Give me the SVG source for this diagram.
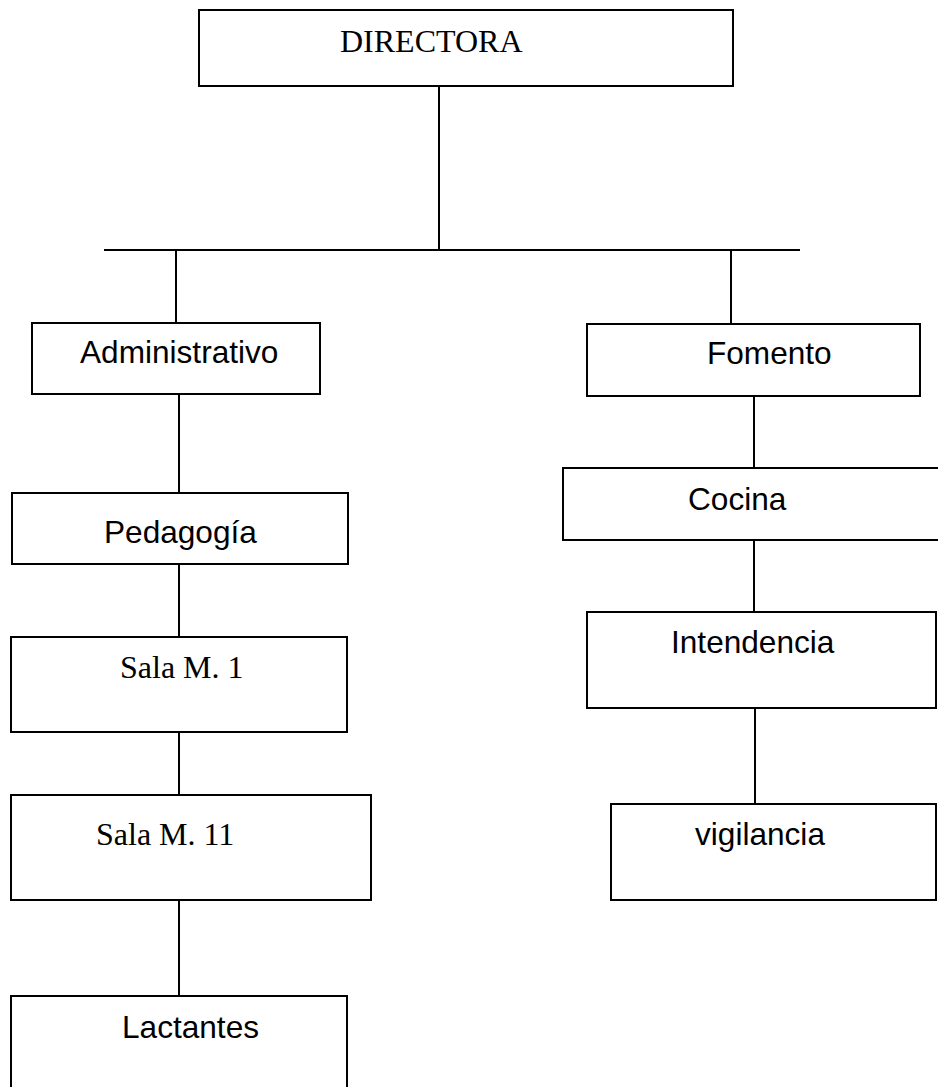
<svg xmlns="http://www.w3.org/2000/svg" width="938" height="1087" viewBox="0 0 938 1087">
<style>
.box{fill:#fff;stroke:#000;stroke-width:2}
.ln{stroke:#000;stroke-width:2;fill:none}
.sans{font-family:"Liberation Sans",Arial,sans-serif;font-size:31.6px;fill:#000}
.serif{font-family:"Liberation Serif","Times New Roman",serif;font-size:32px;fill:#000}
</style>
<rect width="938" height="1087" fill="#fff"/>
<g id="connectors">
<line class="ln" x1="439" y1="86" x2="439" y2="250"/>
<line class="ln" x1="104" y1="250" x2="800" y2="250"/>
<line class="ln" x1="176" y1="250" x2="176" y2="323"/>
<line class="ln" x1="731" y1="250" x2="731" y2="324"/>
<line class="ln" x1="179" y1="394" x2="179" y2="493"/>
<line class="ln" x1="179" y1="564" x2="179" y2="637"/>
<line class="ln" x1="179" y1="732" x2="179" y2="795"/>
<line class="ln" x1="179" y1="900" x2="179" y2="996"/>
<line class="ln" x1="754" y1="396" x2="754" y2="468"/>
<line class="ln" x1="754" y1="540" x2="754" y2="612"/>
<line class="ln" x1="755" y1="708" x2="755" y2="804"/>
</g>
<g id="directora">
<rect class="box" x="199" y="10" width="534" height="76"/>
<text class="serif" x="340" y="52">DIRECTORA</text>
</g>
<g id="administrativo">
<rect class="box" x="32" y="323" width="288" height="71"/>
<text class="sans" x="80" y="363">Administrativo</text>
</g>
<g id="fomento">
<rect class="box" x="587" y="324" width="333" height="72"/>
<text class="sans" x="707" y="364">Fomento</text>
</g>
<g id="pedagogia">
<rect class="box" x="12" y="493" width="336" height="71"/>
<text class="sans" x="104" y="543">Pedagogía</text>
</g>
<g id="sala-m1">
<rect class="box" x="11" y="637" width="336" height="95"/>
<text class="serif" x="120" y="678">Sala M. 1</text>
</g>
<g id="sala-m11">
<rect class="box" x="11" y="795" width="360" height="105"/>
<text class="serif" x="96" y="845">Sala M. 11</text>
</g>
<g id="lactantes">
<rect class="box" x="11" y="996" width="336" height="100"/>
<text class="sans" x="122" y="1038">Lactantes</text>
</g>
<g id="cocina">
<rect class="box" x="563" y="468" width="390" height="72"/>
<text class="sans" x="688" y="510">Cocina</text>
</g>
<g id="intendencia">
<rect class="box" x="587" y="612" width="349" height="96"/>
<text class="sans" x="671" y="653">Intendencia</text>
</g>
<g id="vigilancia">
<rect class="box" x="611" y="804" width="325" height="96"/>
<text class="sans" x="695" y="845">vigilancia</text>
</g>
</svg>
